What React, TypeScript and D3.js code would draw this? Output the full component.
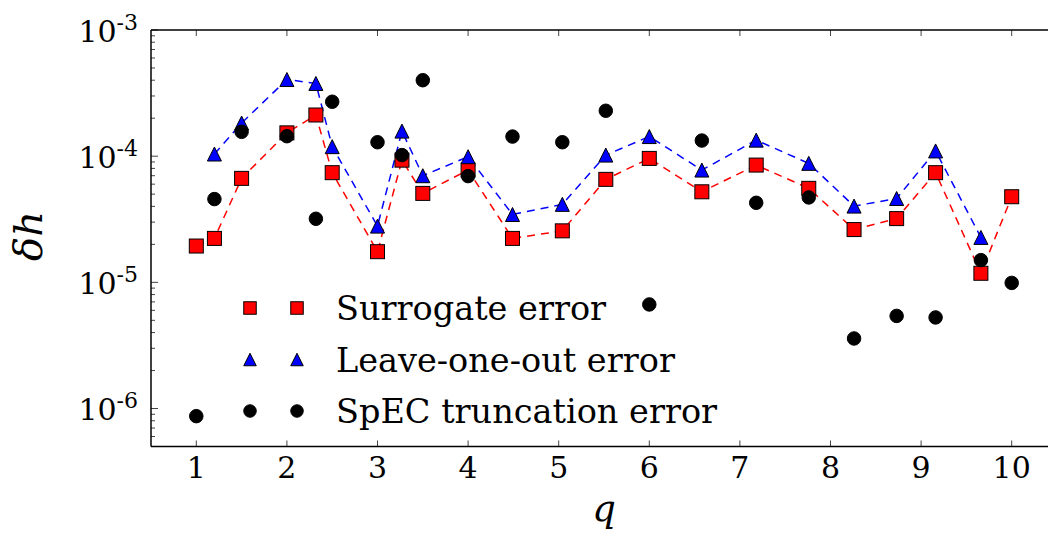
import React from "react";
import * as d3 from "d3";

const qValues = [1, 1.2, 1.5, 2, 2.32, 2.5, 3, 3.27, 3.5, 4, 4.49, 5.04, 5.52, 6, 6.58, 7.18, 7.76, 8.26, 8.73, 9.16, 9.66, 10];
const surrogateErr = [1.94e-5, 2.23e-5, 6.67e-5, 1.53e-4, 2.12e-4, 7.4e-5, 1.75e-5, 9.3e-5, 5.07e-5, 7.76e-5, 2.23e-5, 2.56e-5, 6.55e-5, 9.6e-5, 5.22e-5, 8.5e-5, 5.56e-5, 2.62e-5, 3.2e-5, 7.4e-5, 1.18e-5, 4.77e-5];
const looQ = [1.2, 1.5, 2, 2.32, 2.5, 3, 3.27, 3.5, 4, 4.49, 5.04, 5.52, 6, 6.58, 7.18, 7.76, 8.26, 8.73, 9.16, 9.66];
const looErr = [1.04e-4, 1.83e-4, 4.05e-4, 3.77e-4, 1.19e-4, 2.79e-5, 1.58e-4, 7.0e-5, 9.9e-5, 3.45e-5, 4.15e-5, 1.02e-4, 1.43e-4, 7.76e-5, 1.34e-4, 8.77e-5, 4.02e-5, 4.62e-5, 1.1e-4, 2.27e-5];
const specErr = [8.7e-7, 4.57e-5, 1.56e-4, 1.44e-4, 3.19e-5, 2.7e-4, 1.29e-4, 1.02e-4, 4.0e-4, 6.95e-5, 1.43e-4, 1.29e-4, 2.29e-4, 6.68e-6, 1.33e-4, 4.27e-5, 4.71e-5, 3.59e-6, 5.42e-6, 5.27e-6, 1.5e-5, 9.9e-6];
const xTicks = [1, 2, 3, 4, 5, 6, 7, 8, 9, 10];
const yTickExps = [-6, -5, -4, -3];
const legendLabels = ["Surrogate error", "Leave-one-out error", "SpEC truncation error"];

const W = 1048, H = 533;
const L = 151, R = 1057, T = 30, B = 446.5;
const FONT = "'DejaVu Serif', serif";

export default function App() {
  const x = d3.scaleLinear().domain([0.5, 10.5]).range([L, R]);
  const y = d3.scaleLog().domain([5e-7, 1e-3]).range([B, T]);

  const line = d3.line<[number, number]>().x(d => x(d[0])).y(d => y(d[1]));
  const surPts: [number, number][] = qValues.map((q, i) => [q, surrogateErr[i]]);
  const looPts: [number, number][] = looQ.map((q, i) => [q, looErr[i]]);
  const specPts: [number, number][] = qValues.map((q, i) => [q, specErr[i]]);

  const minor: number[] = [];
  for (let e = -7; e <= -4; e++) for (let m = 2; m <= 9; m++) {
    const v = m * Math.pow(10, e);
    if (v >= 5e-7 && v <= 1e-3) minor.push(v);
  }

  const sq = (cx: number, cy: number, s: number, k: string) => (
    <rect key={k} x={cx - s / 2} y={cy - s / 2} width={s} height={s} fill="#ff0000" stroke="#000" strokeWidth={1} />
  );
  const tri = (cx: number, cy: number, s: number, k: string) => (
    <path key={k} d={`M${cx},${cy - s / 2}L${cx + s / 2},${cy + s / 2}L${cx - s / 2},${cy + s / 2}Z`} fill="#0000ff" stroke="#000" strokeWidth={1} />
  );
  const circ = (cx: number, cy: number, s: number, k: string) => (
    <circle key={k} cx={cx} cy={cy} r={s / 2} fill="#000" stroke="#000" strokeWidth={1} />
  );

  const legendRows = [308, 359.5, 411];
  const legendMarkers = [sq, tri, circ];

  return (
    <div style={{ position: "fixed", left: 0, top: 0 }}>
      <svg width={W} height={H} style={{ display: "block", background: "#fff" }} fontFamily={FONT}>
        {/* dashed lines */}
        <path d={line(surPts) || ""} fill="none" stroke="#ff0000" strokeWidth={1.5} strokeDasharray="8,6" />
        <path d={line(looPts) || ""} fill="none" stroke="#0000ff" strokeWidth={1.5} strokeDasharray="8,6" />
        {surPts.map((p, i) => sq(x(p[0]), y(p[1]), 14, "s" + i))}
        {looPts.map((p, i) => tri(x(p[0]), y(p[1]), 14, "t" + i))}
        {specPts.map((p, i) => circ(x(p[0]), y(p[1]), 13.5, "c" + i))}

        {/* ticks */}
        {xTicks.map(t => (
          <g key={"xt" + t}>
            <line x1={x(t)} x2={x(t)} y1={B} y2={B - 6} stroke="#444" strokeWidth={1} />
            <line x1={x(t)} x2={x(t)} y1={T} y2={T + 6} stroke="#444" strokeWidth={1} />
            <text x={x(t)} y={477.5} textAnchor="middle" fontSize={30} fill="#000">{t}</text>
          </g>
        ))}
        {yTickExps.map(e => (
          <g key={"yt" + e}>
            <line x1={L} x2={L + 7} y1={y(Math.pow(10, e))} y2={y(Math.pow(10, e))} stroke="#444" strokeWidth={1} />
            <text x={138} y={y(Math.pow(10, e)) + 11.5} textAnchor="end" fontSize={30} fill="#000">
              <tspan>10</tspan>
              <tspan dy={-12} fontSize={22}>{`-${-e}`}</tspan>
            </text>
          </g>
        ))}
        {minor.map((v, i) => (
          <line key={"mn" + i} x1={L} x2={L + 4} y1={y(v)} y2={y(v)} stroke="#444" strokeWidth={1} />
        ))}

        {/* spines */}
        <line x1={L} x2={R} y1={T} y2={T} stroke="#000" strokeWidth={1.5} />
        <line x1={L} x2={R} y1={B} y2={B} stroke="#000" strokeWidth={1.5} />
        <line x1={L} x2={L} y1={T} y2={B} stroke="#000" strokeWidth={1.5} />

        {/* legend */}
        {legendLabels.map((lab, i) => (
          <g key={"lg" + i}>
            {legendMarkers[i](250, legendRows[i], 12.5, "la" + i)}
            {legendMarkers[i](297, legendRows[i], 12.5, "lb" + i)}
            <text x={336} y={legendRows[i] + 12} fontSize={33.5} fill="#000">{lab}</text>
          </g>
        ))}

        {/* axis labels */}
        <text x={604} y={521} textAnchor="middle" fontSize={37} fontStyle="italic" fill="#000">q</text>
        <text transform={`translate(42,236) rotate(-90)`} textAnchor="middle" fontSize={40} fontStyle="italic" fill="#000">δh</text>
      </svg>
    </div>
  );
}
